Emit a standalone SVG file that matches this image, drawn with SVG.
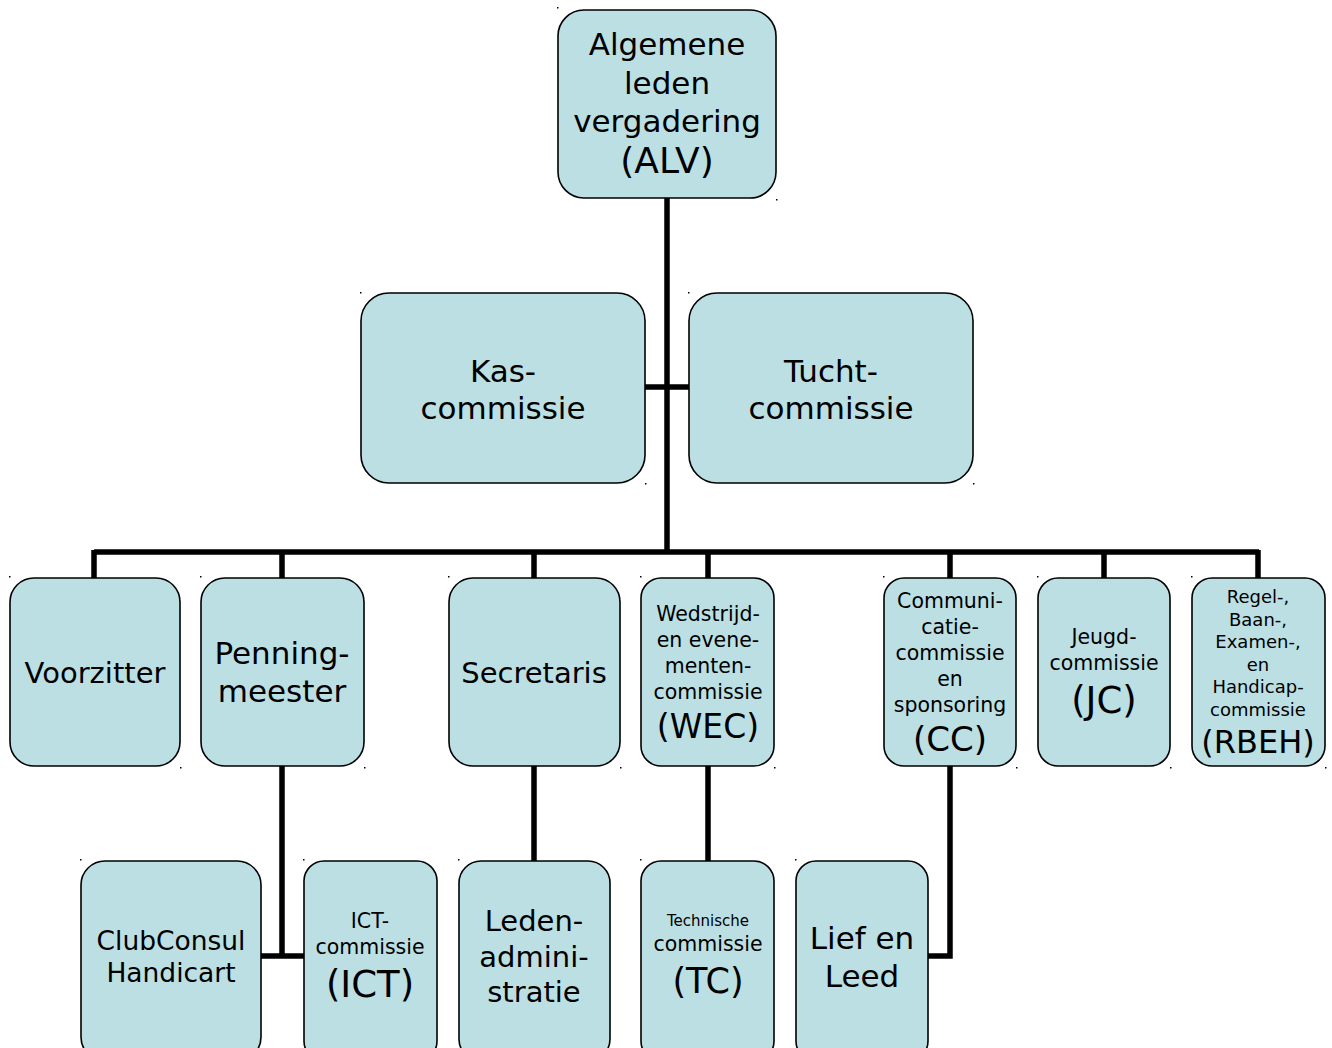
<svg xmlns="http://www.w3.org/2000/svg" width="1332" height="1048" viewBox="0 0 1332 1048">
<style>
.box{fill:#BBDFE3;stroke:#000;stroke-width:1.6}
.t{font-family:"DejaVu Sans","Liberation Sans",sans-serif;text-anchor:middle;fill:#000}
.c{fill:none;stroke:#000;stroke-width:5.5}
.d{fill:#000}
</style>
<rect width="1332" height="1048" fill="#fff"/>
<g id="connectors">
<path class="c" d="M667 198V552M645 387H689M94 552H1259M94 550V578M282 550V578M534 550V578M708 550V578M950 550V578M1104 550V578M1258 550V578"/>
<path class="c" d="M282 766V956M261 956H304M534 766V861M708 766V861M950 766V956H928"/>
</g>
<g id="alv"><rect class="box" x="558" y="10" width="218" height="188" rx="26"/>
<text class="t" font-size="31"><tspan x="667" y="55">Algemene</tspan><tspan x="667" y="94">leden</tspan><tspan x="667" y="132">vergadering</tspan><tspan x="667" y="173" font-size="36">(ALV)</tspan></text></g>
<g id="kas"><rect class="box" x="361" y="293" width="284" height="190" rx="28"/>
<text class="t" font-size="31"><tspan x="503" y="382">Kas-</tspan><tspan x="503" y="419">commissie</tspan></text></g>
<g id="tucht"><rect class="box" x="689" y="293" width="284" height="190" rx="28"/>
<text class="t" font-size="31"><tspan x="831" y="382">Tucht-</tspan><tspan x="831" y="419">commissie</tspan></text></g>
<g id="voorzitter"><rect class="box" x="10" y="578" width="170" height="188" rx="24"/>
<text class="t" font-size="29" x="95" y="683">Voorzitter</text></g>
<g id="penningmeester"><rect class="box" x="201" y="578" width="163" height="188" rx="24"/>
<text class="t" font-size="31"><tspan x="282" y="664">Penning-</tspan><tspan x="282" y="702">meester</tspan></text></g>
<g id="secretaris"><rect class="box" x="449" y="578" width="171" height="188" rx="24"/>
<text class="t" font-size="29" x="534" y="683">Secretaris</text></g>
<g id="wec"><rect class="box" x="641" y="578" width="133" height="188" rx="20"/>
<text class="t" font-size="20.5"><tspan x="708" y="621">Wedstrijd-</tspan><tspan x="708" y="647">en evene-</tspan><tspan x="708" y="673">menten-</tspan><tspan x="708" y="699">commissie</tspan><tspan x="708" y="738" font-size="33">(WEC)</tspan></text></g>
<g id="cc"><rect class="box" x="884" y="578" width="132" height="188" rx="20"/>
<text class="t" font-size="20.5"><tspan x="950" y="608">Communi-</tspan><tspan x="950" y="634">catie-</tspan><tspan x="950" y="660">commissie</tspan><tspan x="950" y="686">en</tspan><tspan x="950" y="712">sponsoring</tspan><tspan x="950" y="751" font-size="34">(CC)</tspan></text></g>
<g id="jc"><rect class="box" x="1038" y="578" width="132" height="188" rx="20"/>
<text class="t" font-size="20.5"><tspan x="1104" y="644">Jeugd-</tspan><tspan x="1104" y="670">commissie</tspan><tspan x="1104" y="713" font-size="37">(JC)</tspan></text></g>
<g id="rbeh"><rect class="box" x="1192" y="578" width="133" height="188" rx="20"/>
<text class="t" font-size="18"><tspan x="1258" y="603">Regel-,</tspan><tspan x="1258" y="626">Baan-,</tspan><tspan x="1258" y="648">Examen-,</tspan><tspan x="1258" y="671">en</tspan><tspan x="1258" y="693">Handicap-</tspan><tspan x="1258" y="716">commissie</tspan><tspan x="1258" y="753" font-size="32">(RBEH)</tspan></text></g>
<g id="clubconsul"><rect class="box" x="81" y="861" width="180" height="200" rx="24"/>
<text class="t" font-size="26.5"><tspan x="171" y="950">ClubConsul</tspan><tspan x="171" y="982">Handicart</tspan></text></g>
<g id="ict"><rect class="box" x="304" y="861" width="133" height="200" rx="20"/>
<text class="t" font-size="20.5"><tspan x="370" y="928">ICT-</tspan><tspan x="370" y="954">commissie</tspan><tspan x="370" y="997" font-size="37">(ICT)</tspan></text></g>
<g id="leden"><rect class="box" x="459" y="861" width="151" height="200" rx="22"/>
<text class="t" font-size="29"><tspan x="534" y="931">Leden-</tspan><tspan x="534" y="967">admini-</tspan><tspan x="534" y="1002">stratie</tspan></text></g>
<g id="tc"><rect class="box" x="641" y="861" width="133" height="200" rx="20"/>
<text class="t"><tspan x="708" y="926" font-size="15">Technische</tspan><tspan x="708" y="951" font-size="20.5">commissie</tspan><tspan x="708" y="993" font-size="35">(TC)</tspan></text></g>
<g id="liefenleed"><rect class="box" x="796" y="861" width="132" height="200" rx="20"/>
<text class="t" font-size="31"><tspan x="862" y="949">Lief en</tspan><tspan x="862" y="987">Leed</tspan></text></g>
<g id="marks">
<rect class="d" x="557" y="7" width="1.5" height="1.5"/><rect class="d" x="776" y="199" width="1.5" height="1.5"/>
<rect class="d" x="360" y="292" width="1.5" height="1.5"/><rect class="d" x="645" y="483" width="1.5" height="1.5"/>
<rect class="d" x="688" y="292" width="1.5" height="1.5"/><rect class="d" x="973" y="483" width="1.5" height="1.5"/>
<rect class="d" x="9" y="576" width="1.5" height="1.5"/><rect class="d" x="180" y="767" width="1.5" height="1.5"/>
<rect class="d" x="200" y="576" width="1.5" height="1.5"/><rect class="d" x="364" y="767" width="1.5" height="1.5"/>
<rect class="d" x="448" y="576" width="1.5" height="1.5"/><rect class="d" x="620" y="767" width="1.5" height="1.5"/>
<rect class="d" x="640" y="576" width="1.5" height="1.5"/><rect class="d" x="774" y="767" width="1.5" height="1.5"/>
<rect class="d" x="883" y="576" width="1.5" height="1.5"/><rect class="d" x="1016" y="767" width="1.5" height="1.5"/>
<rect class="d" x="1037" y="576" width="1.5" height="1.5"/><rect class="d" x="1170" y="767" width="1.5" height="1.5"/>
<rect class="d" x="1191" y="576" width="1.5" height="1.5"/><rect class="d" x="1325" y="767" width="1.5" height="1.5"/>
<rect class="d" x="80" y="859" width="1.5" height="1.5"/><rect class="d" x="303" y="859" width="1.5" height="1.5"/>
<rect class="d" x="458" y="859" width="1.5" height="1.5"/><rect class="d" x="640" y="859" width="1.5" height="1.5"/>
<rect class="d" x="795" y="859" width="1.5" height="1.5"/>
</g>
</svg>
